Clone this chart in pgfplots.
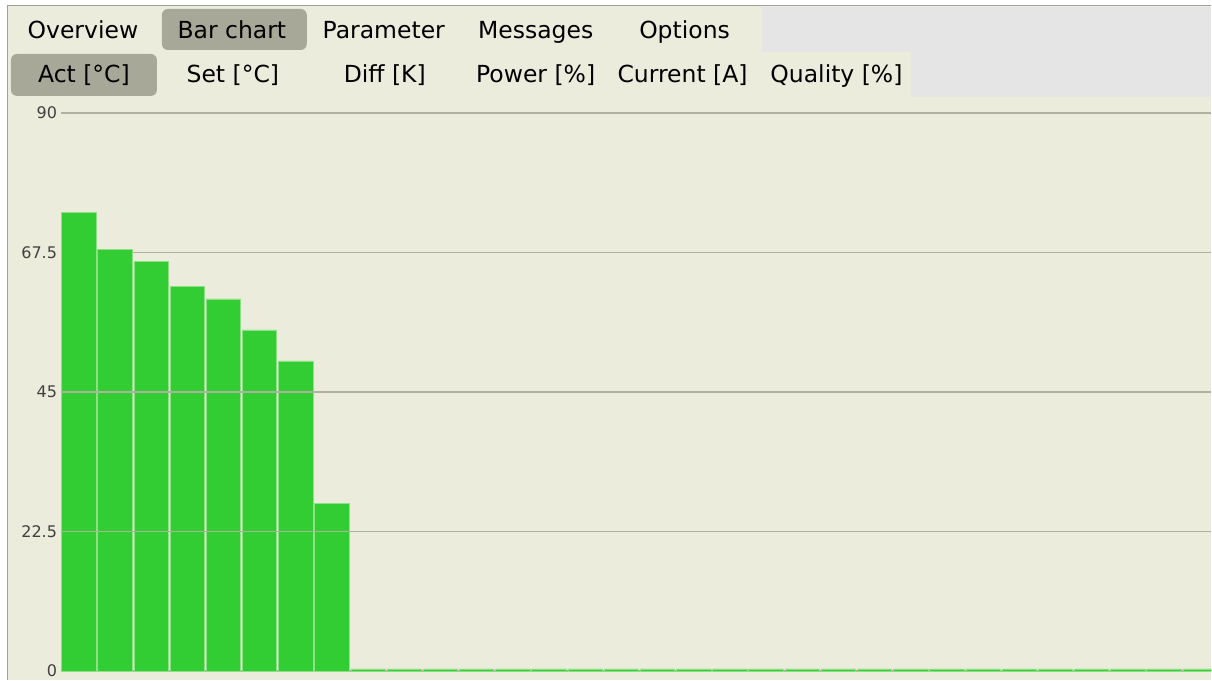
\documentclass[border=0pt]{standalone}
\usepackage{pgfplots}
\pgfplotsset{compat=1.18}
\usepackage{fontspec}
\setmainfont{DejaVu Sans}
\definecolor{bgc}{HTML}{ECECDC}
\definecolor{tabc}{HTML}{A8A898}
\definecolor{lgray}{HTML}{E5E5E5}
\definecolor{gridc}{HTML}{B0B0A0}
\definecolor{barc}{HTML}{32CD32}
\definecolor{bare}{HTML}{8EDF86}
\definecolor{bordc}{HTML}{A0A0A0}
\definecolor{tickc}{HTML}{404040}
\pgfplotstableread{
x y
0 74
1 68
2 66
3 62
4 60
5 55
6 50
7 27
8 0.35
9 0.35
10 0.35
11 0.35
12 0.35
13 0.35
14 0.35
15 0.35
16 0.35
17 0.35
18 0.35
19 0.35
20 0.35
21 0.35
22 0.35
23 0.35
24 0.35
25 0.35
26 0.35
27 0.35
28 0.35
29 0.35
30 0.35
31 0.35
}\bardata
\begin{document}
\begin{tikzpicture}[x=1pt,y=1pt]
% window background
\fill[white] (0,0) rectangle (1212,680);
\fill[bgc] (8,0) rectangle (1212,674);
\fill[lgray] (762,673) rectangle (1212,628);
\fill[lgray] (912,628) rectangle (1212,583);
\draw[bordc, line width=1.5pt] (7.5,0) -- (7.5,674.5) -- (1212,674.5);
% tab highlights
\fill[tabc, rounded corners=6pt] (162,671) rectangle (307,630);
\fill[tabc, rounded corners=6pt] (11,626) rectangle (157,584);
% tab labels
\begin{scope}[every node/.style={anchor=base, inner sep=0pt, font=\fontsize{23.5}{28}\selectfont}]
\node at (83,641) {Overview};
\node at (232,641) {Bar chart};
\node at (384,641) {Parameter};
\node at (536,641) {Messages};
\node at (685,641) {Options};
\node at (84,597) {Act [°C]};
\node at (233,597) {Set [°C]};
\node at (385,597) {Diff [K]};
\node at (536,597) {Power [\%]};
\node at (683,597) {Current [A]};
\node at (837,597) {Quality [\%]};
\end{scope}
\begin{axis}[
  at={(60.75pt,8.5pt)}, anchor=south west,
  scale only axis, width=1151.25pt, height=558.5pt,
  xmin=-0.5, xmax=31.31, ymin=0, ymax=90,
  ybar, bar width=0.95, bar shift=0pt,
  xtick=\empty,
  ytick={0,22.5,45,67.5,90},
  yticklabels={0,22.5,45,67.5,90},
  yticklabel style={font=\fontsize{16}{18}\selectfont, text=tickc, inner sep=0pt, xshift=-3.5pt},
  major tick length=0pt,
  axis line style={draw=none},
  ymajorgrids, grid style={gridc, line width=1.5pt},
]
\addplot[fill=barc, draw=bare, line width=0.7pt] table[x=x,y=y] {\bardata};
\draw[gridc, line width=1.5pt] (axis cs:-0.5,45) -- (axis cs:31.31,45);
\draw[gridc, line width=1.5pt] (axis cs:-0.5,22.5) -- (axis cs:31.31,22.5);
\end{axis}
\end{tikzpicture}
\end{document}
